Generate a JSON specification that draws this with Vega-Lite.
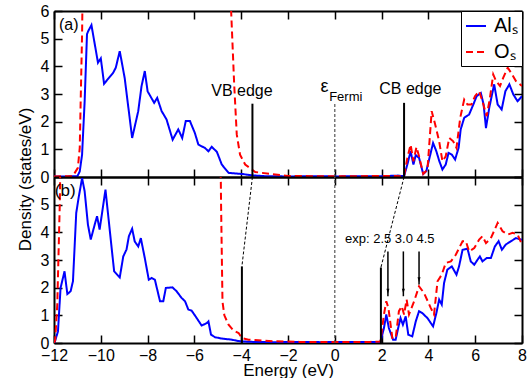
{
  "$schema": "https://vega.github.io/schema/vega-lite/v6.json",
  "padding": {"left": 16, "top": 3, "right": 0, "bottom": 0},
  "bounds": "flush",
  "spacing": 0,
  "background": "white",
  "config": {
    "font": "Liberation Sans",
    "view": {"stroke": null},
    "axis": {
      "grid": false, "domainColor": "black", "domainWidth": 2,
      "tickColor": "black", "tickWidth": 1.5, "tickSize": -8,
      "labelFontSize": 16, "labelColor": "black", "labelFont": "Liberation Sans",
      "titleFontSize": 17, "titleColor": "black", "titleFontWeight": "normal", "titleFont": "Liberation Sans",
      "labelFlush": false
    },
    "text": {"font": "Liberation Sans", "color": "black"}
  },
  "datasets": {
    "a": [
      {"s": "Alₛ", "E": -12, "D": 0.02}, {"s": "Alₛ", "E": -11.5, "D": 0.02}, {"s": "Alₛ", "E": -11.0, "D": 0.03},
      {"s": "Alₛ", "E": -10.9, "D": 0.2}, {"s": "Alₛ", "E": -10.8, "D": 0.81}, {"s": "Alₛ", "E": -10.69, "D": 2.74},
      {"s": "Alₛ", "E": -10.59, "D": 5.16}, {"s": "Alₛ", "E": -10.54, "D": 5.27}, {"s": "Alₛ", "E": -10.4, "D": 5.49},
      {"s": "Alₛ", "E": -10.12, "D": 4.13}, {"s": "Alₛ", "E": -10.0, "D": 4.29}, {"s": "Alₛ", "E": -9.86, "D": 3.37},
      {"s": "Alₛ", "E": -9.47, "D": 3.77}, {"s": "Alₛ", "E": -9.36, "D": 3.95}, {"s": "Alₛ", "E": -9.19, "D": 4.55},
      {"s": "Alₛ", "E": -8.98, "D": 3.58}, {"s": "Alₛ", "E": -8.66, "D": 1.41}, {"s": "Alₛ", "E": -8.4, "D": 2.38},
      {"s": "Alₛ", "E": -8.26, "D": 3.28}, {"s": "Alₛ", "E": -8.12, "D": 3.83}, {"s": "Alₛ", "E": -8.0, "D": 3.1},
      {"s": "Alₛ", "E": -7.72, "D": 2.68}, {"s": "Alₛ", "E": -7.59, "D": 2.86}, {"s": "Alₛ", "E": -7.4, "D": 2.38},
      {"s": "Alₛ", "E": -7.19, "D": 2.08}, {"s": "Alₛ", "E": -6.93, "D": 1.35}, {"s": "Alₛ", "E": -6.69, "D": 1.72},
      {"s": "Alₛ", "E": -6.52, "D": 1.41}, {"s": "Alₛ", "E": -6.37, "D": 2.02}, {"s": "Alₛ", "E": -6.19, "D": 2.02},
      {"s": "Alₛ", "E": -5.98, "D": 1.59}, {"s": "Alₛ", "E": -5.83, "D": 1.17}, {"s": "Alₛ", "E": -5.55, "D": 1.05},
      {"s": "Alₛ", "E": -5.4, "D": 0.93}, {"s": "Alₛ", "E": -5.26, "D": 1.09}, {"s": "Alₛ", "E": -5.04, "D": 0.91},
      {"s": "Alₛ", "E": -4.83, "D": 0.45}, {"s": "Alₛ", "E": -4.54, "D": 0.15}, {"s": "Alₛ", "E": -3.97, "D": 0.11},
      {"s": "Alₛ", "E": -3.54, "D": 0.06}, {"s": "Alₛ", "E": -3.0, "D": 0.03}, {"s": "Alₛ", "E": -2.0, "D": 0.02},
      {"s": "Alₛ", "E": -1.0, "D": 0.03}, {"s": "Alₛ", "E": 0.0, "D": 0.02}, {"s": "Alₛ", "E": 1.0, "D": 0.03},
      {"s": "Alₛ", "E": 2.0, "D": 0.03}, {"s": "Alₛ", "E": 2.7, "D": 0.05}, {"s": "Alₛ", "E": 2.96, "D": 0.03},
      {"s": "Alₛ", "E": 3.1, "D": 0.45}, {"s": "Alₛ", "E": 3.24, "D": 0.93}, {"s": "Alₛ", "E": 3.36, "D": 0.45},
      {"s": "Alₛ", "E": 3.46, "D": 0.79}, {"s": "Alₛ", "E": 3.6, "D": 0.69}, {"s": "Alₛ", "E": 3.78, "D": 0.11},
      {"s": "Alₛ", "E": 3.91, "D": 0.21}, {"s": "Alₛ", "E": 4.03, "D": 0.63}, {"s": "Alₛ", "E": 4.2, "D": 1.23},
      {"s": "Alₛ", "E": 4.34, "D": 0.93}, {"s": "Alₛ", "E": 4.46, "D": 0.59}, {"s": "Alₛ", "E": 4.6, "D": 0.27},
      {"s": "Alₛ", "E": 4.74, "D": 0.45}, {"s": "Alₛ", "E": 4.86, "D": 0.87}, {"s": "Alₛ", "E": 5.0, "D": 0.81},
      {"s": "Alₛ", "E": 5.14, "D": 0.63}, {"s": "Alₛ", "E": 5.29, "D": 1.05}, {"s": "Alₛ", "E": 5.38, "D": 1.72},
      {"s": "Alₛ", "E": 5.53, "D": 2.14}, {"s": "Alₛ", "E": 5.74, "D": 2.26}, {"s": "Alₛ", "E": 5.92, "D": 2.62},
      {"s": "Alₛ", "E": 6.06, "D": 2.92}, {"s": "Alₛ", "E": 6.24, "D": 3.04}, {"s": "Alₛ", "E": 6.36, "D": 2.62},
      {"s": "Alₛ", "E": 6.46, "D": 1.77}, {"s": "Alₛ", "E": 6.6, "D": 2.5}, {"s": "Alₛ", "E": 6.81, "D": 3.35},
      {"s": "Alₛ", "E": 6.96, "D": 2.62}, {"s": "Alₛ", "E": 7.13, "D": 2.44}, {"s": "Alₛ", "E": 7.29, "D": 3.1},
      {"s": "Alₛ", "E": 7.46, "D": 3.35}, {"s": "Alₛ", "E": 7.63, "D": 2.98}, {"s": "Alₛ", "E": 7.81, "D": 2.74},
      {"s": "Alₛ", "E": 8.0, "D": 2.92},
      {"s": "Oₛ", "E": -12, "D": 0.02}, {"s": "Oₛ", "E": -11.2, "D": 0.03}, {"s": "Oₛ", "E": -10.98, "D": 0.33},
      {"s": "Oₛ", "E": -10.9, "D": 1.05}, {"s": "Oₛ", "E": -10.86, "D": 2.74}, {"s": "Oₛ", "E": -10.8, "D": 5.16},
      {"s": "Oₛ", "E": -10.7, "D": 12}, {"s": "Oₛ", "E": -4.55, "D": 12}, {"s": "Oₛ", "E": -4.43, "D": 6.0},
      {"s": "Oₛ", "E": -4.3, "D": 3.35}, {"s": "Oₛ", "E": -4.19, "D": 1.54}, {"s": "Oₛ", "E": -4.05, "D": 0.81},
      {"s": "Oₛ", "E": -3.83, "D": 0.45}, {"s": "Oₛ", "E": -3.4, "D": 0.18}, {"s": "Oₛ", "E": -2.55, "D": 0.09},
      {"s": "Oₛ", "E": -2.0, "D": 0.04}, {"s": "Oₛ", "E": -1.0, "D": 0.03}, {"s": "Oₛ", "E": 0.0, "D": 0.03},
      {"s": "Oₛ", "E": 1.0, "D": 0.03}, {"s": "Oₛ", "E": 2.0, "D": 0.04}, {"s": "Oₛ", "E": 2.96, "D": 0.03},
      {"s": "Oₛ", "E": 3.1, "D": 0.69}, {"s": "Oₛ", "E": 3.24, "D": 1.17}, {"s": "Oₛ", "E": 3.36, "D": 0.57},
      {"s": "Oₛ", "E": 3.49, "D": 1.08}, {"s": "Oₛ", "E": 3.6, "D": 0.75}, {"s": "Oₛ", "E": 3.78, "D": 0.11},
      {"s": "Oₛ", "E": 3.96, "D": 0.27}, {"s": "Oₛ", "E": 4.14, "D": 2.38}, {"s": "Oₛ", "E": 4.29, "D": 1.9},
      {"s": "Oₛ", "E": 4.46, "D": 1.29}, {"s": "Oₛ", "E": 4.6, "D": 0.57}, {"s": "Oₛ", "E": 4.74, "D": 0.75},
      {"s": "Oₛ", "E": 4.89, "D": 1.41}, {"s": "Oₛ", "E": 5.06, "D": 1.29}, {"s": "Oₛ", "E": 5.2, "D": 1.05},
      {"s": "Oₛ", "E": 5.36, "D": 2.14}, {"s": "Oₛ", "E": 5.53, "D": 2.8}, {"s": "Oₛ", "E": 5.67, "D": 2.62},
      {"s": "Oₛ", "E": 5.84, "D": 2.62}, {"s": "Oₛ", "E": 5.99, "D": 2.92}, {"s": "Oₛ", "E": 6.17, "D": 3.1},
      {"s": "Oₛ", "E": 6.31, "D": 2.74}, {"s": "Oₛ", "E": 6.49, "D": 2.2}, {"s": "Oₛ", "E": 6.63, "D": 2.86},
      {"s": "Oₛ", "E": 6.77, "D": 3.71}, {"s": "Oₛ", "E": 6.89, "D": 3.47}, {"s": "Oₛ", "E": 7.06, "D": 3.29},
      {"s": "Oₛ", "E": 7.2, "D": 3.59}, {"s": "Oₛ", "E": 7.39, "D": 3.95}, {"s": "Oₛ", "E": 7.53, "D": 3.77},
      {"s": "Oₛ", "E": 7.74, "D": 3.47}, {"s": "Oₛ", "E": 8.0, "D": 3.29}
    ],
    "b": [
      {"s": "Alₛ", "E": -11.98, "D": 0}, {"s": "Alₛ", "E": -11.83, "D": 0.42}, {"s": "Alₛ", "E": -11.72, "D": 1.99},
      {"s": "Alₛ", "E": -11.55, "D": 2.59}, {"s": "Alₛ", "E": -11.43, "D": 1.77}, {"s": "Alₛ", "E": -11.29, "D": 1.87},
      {"s": "Alₛ", "E": -11.19, "D": 2.23}, {"s": "Alₛ", "E": -11.05, "D": 4.7}, {"s": "Alₛ", "E": -10.95, "D": 5.24},
      {"s": "Alₛ", "E": -10.8, "D": 5.96}, {"s": "Alₛ", "E": -10.69, "D": 5.48}, {"s": "Alₛ", "E": -10.55, "D": 4.28},
      {"s": "Alₛ", "E": -10.43, "D": 3.74}, {"s": "Alₛ", "E": -10.26, "D": 4.28}, {"s": "Alₛ", "E": -10.16, "D": 4.58},
      {"s": "Alₛ", "E": -10.05, "D": 4.1}, {"s": "Alₛ", "E": -9.8, "D": 5.54}, {"s": "Alₛ", "E": -9.62, "D": 4.1},
      {"s": "Alₛ", "E": -9.43, "D": 2.59}, {"s": "Alₛ", "E": -9.19, "D": 2.37}, {"s": "Alₛ", "E": -9.04, "D": 3.13},
      {"s": "Alₛ", "E": -8.9, "D": 3.38}, {"s": "Alₛ", "E": -8.8, "D": 3.86}, {"s": "Alₛ", "E": -8.66, "D": 4.13},
      {"s": "Alₛ", "E": -8.55, "D": 3.67}, {"s": "Alₛ", "E": -8.4, "D": 3.49}, {"s": "Alₛ", "E": -8.29, "D": 3.79},
      {"s": "Alₛ", "E": -8.12, "D": 3.07}, {"s": "Alₛ", "E": -7.95, "D": 2.29}, {"s": "Alₛ", "E": -7.83, "D": 2.35},
      {"s": "Alₛ", "E": -7.69, "D": 2.29}, {"s": "Alₛ", "E": -7.47, "D": 1.51}, {"s": "Alₛ", "E": -7.33, "D": 1.51},
      {"s": "Alₛ", "E": -7.22, "D": 1.99}, {"s": "Alₛ", "E": -6.94, "D": 2.01}, {"s": "Alₛ", "E": -6.76, "D": 1.87},
      {"s": "Alₛ", "E": -6.55, "D": 1.63}, {"s": "Alₛ", "E": -6.4, "D": 1.51}, {"s": "Alₛ", "E": -6.26, "D": 1.21},
      {"s": "Alₛ", "E": -6.12, "D": 1.17}, {"s": "Alₛ", "E": -5.98, "D": 1.0}, {"s": "Alₛ", "E": -5.69, "D": 0.63},
      {"s": "Alₛ", "E": -5.47, "D": 0.72}, {"s": "Alₛ", "E": -5.4, "D": 0.78}, {"s": "Alₛ", "E": -5.29, "D": 0.3},
      {"s": "Alₛ", "E": -5.12, "D": 0.21}, {"s": "Alₛ", "E": -4.83, "D": 0.16}, {"s": "Alₛ", "E": -4.4, "D": 0.12},
      {"s": "Alₛ", "E": -4.05, "D": 0.06}, {"s": "Alₛ", "E": -3.5, "D": 0.04}, {"s": "Alₛ", "E": -2.5, "D": 0.03},
      {"s": "Alₛ", "E": -1.5, "D": 0.04}, {"s": "Alₛ", "E": -0.5, "D": 0.03}, {"s": "Alₛ", "E": 0.5, "D": 0.04},
      {"s": "Alₛ", "E": 1.5, "D": 0.04}, {"s": "Alₛ", "E": 1.95, "D": 0.04}, {"s": "Alₛ", "E": 2.1, "D": 0.54},
      {"s": "Alₛ", "E": 2.2, "D": 1.03}, {"s": "Alₛ", "E": 2.31, "D": 0.54}, {"s": "Alₛ", "E": 2.49, "D": 0.12},
      {"s": "Alₛ", "E": 2.6, "D": 0.12}, {"s": "Alₛ", "E": 2.74, "D": 0.66}, {"s": "Alₛ", "E": 2.81, "D": 0.9},
      {"s": "Alₛ", "E": 2.91, "D": 0.66}, {"s": "Alₛ", "E": 3.03, "D": 0.96}, {"s": "Alₛ", "E": 3.14, "D": 0.3},
      {"s": "Alₛ", "E": 3.31, "D": 0.24}, {"s": "Alₛ", "E": 3.46, "D": 0.78}, {"s": "Alₛ", "E": 3.6, "D": 1.15},
      {"s": "Alₛ", "E": 3.74, "D": 1.08}, {"s": "Alₛ", "E": 3.96, "D": 0.9}, {"s": "Alₛ", "E": 4.2, "D": 0.6},
      {"s": "Alₛ", "E": 4.34, "D": 1.08}, {"s": "Alₛ", "E": 4.46, "D": 1.57}, {"s": "Alₛ", "E": 4.57, "D": 1.39},
      {"s": "Alₛ", "E": 4.67, "D": 2.17}, {"s": "Alₛ", "E": 4.81, "D": 2.65}, {"s": "Alₛ", "E": 5.0, "D": 2.77},
      {"s": "Alₛ", "E": 5.2, "D": 2.47}, {"s": "Alₛ", "E": 5.31, "D": 2.77}, {"s": "Alₛ", "E": 5.46, "D": 3.37},
      {"s": "Alₛ", "E": 5.67, "D": 3.41}, {"s": "Alₛ", "E": 5.81, "D": 2.95}, {"s": "Alₛ", "E": 5.96, "D": 2.83},
      {"s": "Alₛ", "E": 6.1, "D": 3.01}, {"s": "Alₛ", "E": 6.2, "D": 3.13}, {"s": "Alₛ", "E": 6.31, "D": 2.95},
      {"s": "Alₛ", "E": 6.49, "D": 3.07}, {"s": "Alₛ", "E": 6.67, "D": 3.07}, {"s": "Alₛ", "E": 6.84, "D": 3.49},
      {"s": "Alₛ", "E": 7.0, "D": 3.68}, {"s": "Alₛ", "E": 7.14, "D": 3.37}, {"s": "Alₛ", "E": 7.31, "D": 3.56},
      {"s": "Alₛ", "E": 7.53, "D": 3.68}, {"s": "Alₛ", "E": 7.74, "D": 3.79}, {"s": "Alₛ", "E": 7.96, "D": 3.74},
      {"s": "Alₛ", "E": 8.0, "D": 3.72},
      {"s": "Oₛ", "E": -12.0, "D": 0}, {"s": "Oₛ", "E": -11.95, "D": 0.1}, {"s": "Oₛ", "E": -11.86, "D": 1.39},
      {"s": "Oₛ", "E": -11.75, "D": 5.12}, {"s": "Oₛ", "E": -11.65, "D": 12}, {"s": "Oₛ", "E": -4.95, "D": 12},
      {"s": "Oₛ", "E": -4.86, "D": 5.0}, {"s": "Oₛ", "E": -4.8, "D": 1.5}, {"s": "Oₛ", "E": -4.72, "D": 1.0},
      {"s": "Oₛ", "E": -4.54, "D": 0.66}, {"s": "Oₛ", "E": -4.33, "D": 0.45}, {"s": "Oₛ", "E": -4.11, "D": 0.36},
      {"s": "Oₛ", "E": -3.97, "D": 0.18}, {"s": "Oₛ", "E": -3.69, "D": 0.12}, {"s": "Oₛ", "E": -2.55, "D": 0.06},
      {"s": "Oₛ", "E": -1.5, "D": 0.04}, {"s": "Oₛ", "E": -0.5, "D": 0.04}, {"s": "Oₛ", "E": 0.5, "D": 0.04},
      {"s": "Oₛ", "E": 1.5, "D": 0.04}, {"s": "Oₛ", "E": 1.95, "D": 0.05}, {"s": "Oₛ", "E": 2.1, "D": 1.03},
      {"s": "Oₛ", "E": 2.2, "D": 1.51}, {"s": "Oₛ", "E": 2.29, "D": 1.27}, {"s": "Oₛ", "E": 2.46, "D": 0.18},
      {"s": "Oₛ", "E": 2.6, "D": 0.18}, {"s": "Oₛ", "E": 2.74, "D": 1.15}, {"s": "Oₛ", "E": 2.86, "D": 1.33},
      {"s": "Oₛ", "E": 2.96, "D": 1.03}, {"s": "Oₛ", "E": 3.07, "D": 1.57}, {"s": "Oₛ", "E": 3.17, "D": 1.03},
      {"s": "Oₛ", "E": 3.39, "D": 1.51}, {"s": "Oₛ", "E": 3.6, "D": 2.05}, {"s": "Oₛ", "E": 3.81, "D": 1.81},
      {"s": "Oₛ", "E": 4.1, "D": 1.27}, {"s": "Oₛ", "E": 4.24, "D": 1.03}, {"s": "Oₛ", "E": 4.39, "D": 2.23},
      {"s": "Oₛ", "E": 4.57, "D": 2.47}, {"s": "Oₛ", "E": 4.74, "D": 2.89}, {"s": "Oₛ", "E": 4.96, "D": 2.95},
      {"s": "Oₛ", "E": 5.17, "D": 3.19}, {"s": "Oₛ", "E": 5.46, "D": 3.68}, {"s": "Oₛ", "E": 5.6, "D": 3.68},
      {"s": "Oₛ", "E": 5.74, "D": 3.31}, {"s": "Oₛ", "E": 5.96, "D": 3.43}, {"s": "Oₛ", "E": 6.17, "D": 3.74},
      {"s": "Oₛ", "E": 6.31, "D": 3.86}, {"s": "Oₛ", "E": 6.46, "D": 3.61}, {"s": "Oₛ", "E": 6.67, "D": 3.79},
      {"s": "Oₛ", "E": 6.96, "D": 4.34}, {"s": "Oₛ", "E": 7.17, "D": 4.04}, {"s": "Oₛ", "E": 7.39, "D": 3.92},
      {"s": "Oₛ", "E": 7.6, "D": 3.98}, {"s": "Oₛ", "E": 7.81, "D": 3.92}, {"s": "Oₛ", "E": 8.0, "D": 3.56}
    ],
    "edges_a": [{"E": -3.52, "y1": 0, "y2": 2.65}, {"E": 2.96, "y1": 0, "y2": 2.68}],
    "fermi_a": [{"E": 0, "y1": 0, "y2": 2.68}],
    "edges_b": [{"E": -3.97, "y1": 0, "y2": 2.77}, {"E": 1.97, "y1": 0, "y2": 2.73}],
    "fermi_b": [{"E": 0, "y1": 0, "y2": 6}],
    "links_b": [{"E": -3.52, "D": 6, "E2": -3.97, "D2": 2.77}, {"E": 2.96, "D": 6, "E2": 1.97, "D2": 2.73}],
    "arrows_b": [{"E": 2.27, "top": 3.31, "tip": 1.69}, {"E": 2.93, "top": 3.31, "tip": 1.69}, {"E": 3.6, "top": 3.31, "tip": 2.11}],
    "heads_b": [{"E": 2.27, "D": 1.87}, {"E": 2.93, "D": 1.87}, {"E": 3.6, "D": 2.29}],
    "text_a": [
      {"t": "(a)", "E": -11.37, "D": 5.3},
      {"t": "VB edge", "E": -3.97, "D": 2.92},
      {"t": "CB edge", "E": 3.23, "D": 3.0}
    ],
    "eps_a": [{"t": "ε", "E": -0.44, "D": 3.08}],
    "sub_a": [{"t": "Fermi", "E": -0.24, "D": 2.74}],
    "text_b": [{"t": "(b)", "E": -11.52, "D": 5.3}],
    "exp_b": [{"t": "exp: 2.5 3.0 4.5", "E": 2.35, "D": 3.61}]
  },
  "resolve": {
    "scale": {"color": "independent", "strokeDash": "independent"},
    "legend": {"color": "independent", "strokeDash": "independent"}
  },
  "vconcat": [
    {
      "width": 468, "height": 166,
      "resolve": {"axis": {"x": "independent", "y": "independent"}},
      "layer": [
        {
          "data": {"name": "a"},
          "mark": {"type": "line", "clip": true, "strokeWidth": 2},
          "encoding": {
            "x": {"field": "E", "type": "quantitative", "scale": {"domain": [-12, 8], "nice": false, "zero": false},
                  "axis": {"orient": "bottom", "values": [-12, -10, -8, -6, -4, -2, 0, 2, 4, 6, 8], "labels": false, "title": null}},
            "y": {"field": "D", "type": "quantitative", "scale": {"domain": [0, 6], "nice": false},
                  "axis": {"orient": "left", "values": [0, 1, 2, 3, 4, 5, 6], "title": "Density (states/eV)", "titleY": 168, "titlePadding": 6, "labelPadding": 13}},
            "color": {"field": "s", "type": "nominal", "scale": {"domain": ["Alₛ", "Oₛ"], "range": ["#0000ff", "#ff0000"]},
                      "legend": {"orient": "top-right", "offset": 0, "title": null, "strokeColor": "black", "fillColor": "white", "padding": 4, "labelFontSize": 20, "labelFont": "Liberation Sans", "labelColor": "black", "symbolSize": 400, "symbolStrokeWidth": 2, "rowPadding": 5, "labelOffset": 7, "symbolType": "stroke"}},
            "strokeDash": {"field": "s", "type": "nominal", "scale": {"domain": ["Alₛ", "Oₛ"], "range": [[1, 0], [7, 4]]},
                      "legend": {"orient": "top-right", "offset": 0, "title": null, "strokeColor": "black", "fillColor": "white", "padding": 4, "labelFontSize": 20, "labelFont": "Liberation Sans", "labelColor": "black", "symbolSize": 400, "symbolStrokeWidth": 2, "rowPadding": 5, "labelOffset": 7, "symbolType": "stroke"}},
            "order": {"field": "E", "type": "quantitative"}
          }
        },
        {
          "data": {"name": "edges_a"},
          "mark": {"type": "rule", "color": "black", "strokeWidth": 2},
          "encoding": {
            "x": {"field": "E", "type": "quantitative", "scale": {"domain": [-12, 8], "nice": false, "zero": false},
                  "axis": {"orient": "top", "values": [-12, -10, -8, -6, -4, -2, 0, 2, 4, 6, 8], "labels": false, "title": null}},
            "y": {"field": "y1", "type": "quantitative", "scale": {"domain": [0, 6], "nice": false},
                  "axis": {"orient": "right", "values": [0, 1, 2, 3, 4, 5, 6], "labels": false, "title": null}},
            "y2": {"field": "y2"}
          }
        },
        {
          "data": {"name": "fermi_a"},
          "mark": {"type": "rule", "color": "#555555", "strokeWidth": 1.2, "strokeDash": [3, 2]},
          "encoding": {
            "x": {"field": "E", "type": "quantitative", "axis": null},
            "y": {"field": "y1", "type": "quantitative", "axis": null},
            "y2": {"field": "y2"}
          }
        },
        {
          "data": {"name": "text_a"},
          "mark": {"type": "text", "fontSize": 16, "align": "center", "baseline": "alphabetic"},
          "encoding": {
            "x": {"field": "E", "type": "quantitative", "axis": null},
            "y": {"field": "D", "type": "quantitative", "axis": null},
            "text": {"field": "t"}
          }
        },
        {
          "data": {"name": "eps_a"},
          "mark": {"type": "text", "fontSize": 18, "align": "center", "baseline": "alphabetic"},
          "encoding": {
            "x": {"field": "E", "type": "quantitative", "axis": null},
            "y": {"field": "D", "type": "quantitative", "axis": null},
            "text": {"field": "t"}
          }
        },
        {
          "data": {"name": "sub_a"},
          "mark": {"type": "text", "fontSize": 13, "align": "left", "baseline": "alphabetic"},
          "encoding": {
            "x": {"field": "E", "type": "quantitative", "axis": null},
            "y": {"field": "D", "type": "quantitative", "axis": null},
            "text": {"field": "t"}
          }
        }
      ]
    },
    {
      "width": 468, "height": 166,
      "resolve": {"axis": {"x": "independent", "y": "independent"}},
      "layer": [
        {
          "data": {"name": "b"},
          "mark": {"type": "line", "clip": true, "strokeWidth": 2},
          "encoding": {
            "x": {"field": "E", "type": "quantitative", "scale": {"domain": [-12, 8], "nice": false, "zero": false},
                  "axis": {"orient": "bottom", "values": [-12, -10, -8, -6, -4, -2, 0, 2, 4, 6, 8], "title": "Energy (eV)", "labelPadding": 12, "titlePadding": -1}},
            "y": {"field": "D", "type": "quantitative", "scale": {"domain": [0, 6], "nice": false},
                  "axis": {"orient": "left", "values": [0, 1, 2, 3, 4, 5], "title": null, "labelPadding": 13}},
            "color": {"field": "s", "type": "nominal", "scale": {"domain": ["Alₛ", "Oₛ"], "range": ["#0000ff", "#ff0000"]}, "legend": null},
            "strokeDash": {"field": "s", "type": "nominal", "scale": {"domain": ["Alₛ", "Oₛ"], "range": [[1, 0], [7, 4]]}, "legend": null},
            "order": {"field": "E", "type": "quantitative"}
          }
        },
        {
          "data": {"name": "edges_b"},
          "mark": {"type": "rule", "color": "black", "strokeWidth": 2},
          "encoding": {
            "x": {"field": "E", "type": "quantitative", "scale": {"domain": [-12, 8], "nice": false, "zero": false},
                  "axis": {"orient": "top", "values": [-12, -10, -8, -6, -4, -2, 0, 2, 4, 6, 8], "labels": false, "title": null}},
            "y": {"field": "y1", "type": "quantitative", "scale": {"domain": [0, 6], "nice": false},
                  "axis": {"orient": "right", "values": [0, 1, 2, 3, 4, 5, 6], "labels": false, "title": null}},
            "y2": {"field": "y2"}
          }
        },
        {
          "data": {"name": "fermi_b"},
          "mark": {"type": "rule", "color": "#555555", "strokeWidth": 1.2, "strokeDash": [3, 2]},
          "encoding": {
            "x": {"field": "E", "type": "quantitative", "axis": null},
            "y": {"field": "y1", "type": "quantitative", "axis": null},
            "y2": {"field": "y2"}
          }
        },
        {
          "data": {"name": "links_b"},
          "mark": {"type": "rule", "color": "black", "strokeWidth": 1, "strokeDash": [3, 2]},
          "encoding": {
            "x": {"field": "E", "type": "quantitative", "axis": null},
            "y": {"field": "D", "type": "quantitative", "axis": null},
            "x2": {"field": "E2"},
            "y2": {"field": "D2"}
          }
        },
        {
          "data": {"name": "arrows_b"},
          "mark": {"type": "rule", "color": "black", "strokeWidth": 1.5},
          "encoding": {
            "x": {"field": "E", "type": "quantitative", "axis": null},
            "y": {"field": "top", "type": "quantitative", "axis": null},
            "y2": {"field": "tip"}
          }
        },
        {
          "data": {"name": "heads_b"},
          "mark": {"type": "point", "shape": "M-0.3,-0.5L0.3,-0.5L0,0.5Z", "size": 100, "filled": true, "color": "black", "opacity": 1},
          "encoding": {
            "x": {"field": "E", "type": "quantitative", "axis": null},
            "y": {"field": "D", "type": "quantitative", "axis": null}
          }
        },
        {
          "data": {"name": "text_b"},
          "mark": {"type": "text", "fontSize": 17, "align": "center", "baseline": "alphabetic"},
          "encoding": {
            "x": {"field": "E", "type": "quantitative", "axis": null},
            "y": {"field": "D", "type": "quantitative", "axis": null},
            "text": {"field": "t"}
          }
        },
        {
          "data": {"name": "exp_b"},
          "mark": {"type": "text", "fontSize": 13, "align": "center", "baseline": "alphabetic"},
          "encoding": {
            "x": {"field": "E", "type": "quantitative", "axis": null},
            "y": {"field": "D", "type": "quantitative", "axis": null},
            "text": {"field": "t"}
          }
        }
      ]
    }
  ]
}
